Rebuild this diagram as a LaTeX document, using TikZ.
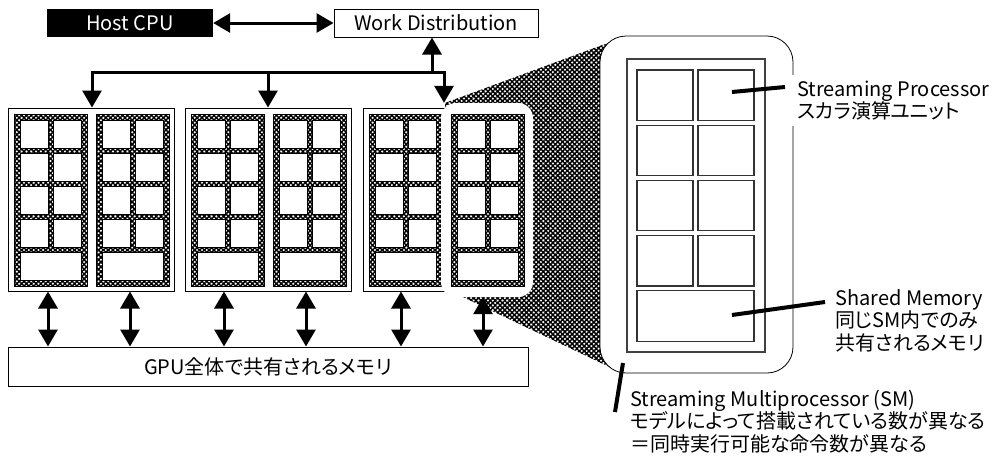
\documentclass[tikz,border=0pt]{standalone}
\usepackage{fontspec}
\setmainfont{Noto Sans CJK JP}[RawFeature=+palt]
\usetikzlibrary{arrows.meta,patterns.meta}
\tikzset{
  hatchA/.style={pattern={Lines[angle=45,distance=3.4pt,line width=1.5pt]}},
  hatchB/.style={pattern={Lines[angle=-45,distance=3.4pt,line width=1.5pt]}},
  cell/.style={draw=black, line width=1pt, fill=white},
  bigcell/.style={draw=black!80, line width=1.2pt, fill=white},
  tipT/.tip={Triangle[length=17pt,width=19pt]},
  conn/.style={line width=3pt},
  biarrow/.style={conn, tipT-tipT},
  leader/.style={line width=4pt},
  lbl/.style={anchor=west, align=left, inner xsep=5pt, inner ysep=6pt},
  smallsm/.pic={
    \path[hatchA] (0,0) rectangle (73,172);
    \path[hatchB] (0,0) rectangle (73,172);
    \draw[line width=1pt] (0,0) rectangle (73,172);
    \foreach \r in {0,...,3}{\foreach \c in {0,1}{
      \draw[cell] ({6+\c*33},{6+\r*33}) rectangle ++(28,28);}}
    \draw[cell] (6,138) rectangle ++(61,28);
  }
}
\begin{document}
\begin{tikzpicture}[x=1pt,y=-1pt,every node/.style={font=\fontsize{20}{22.5}\selectfont}]
\useasboundingbox (0,0) rectangle (996,464);
\fill[white] (0,0) rectangle (996,464);

% top boxes
\node[fill=black, text=white, minimum width=166pt, minimum height=28pt, inner sep=0] (host) at (130,23) {Host CPU};
\node[draw, line width=1pt, fill=white, minimum width=204pt, minimum height=28pt, inner sep=0] (wd) at (436,23) {Work Distribution};

% clusters
\node[draw, line width=1pt, fill=white, minimum width=166pt, minimum height=183pt, inner sep=0] (c1) at (91,199.5) {};
\node[draw, line width=1pt, fill=white, minimum width=166pt, minimum height=183pt, inner sep=0] (c2) at (268.5,199.5) {};
\node[draw, line width=1pt, fill=white, minimum width=166pt, minimum height=183pt, inner sep=0] (c3) at (446,199.5) {};
\pic at (14,114) {smallsm};
\pic at (96,114) {smallsm};
\pic at (191.5,114) {smallsm};
\pic at (273.5,114) {smallsm};
\pic at (369,114) {smallsm};

% zoom hatch
\path[hatchA] (445,103) -- (627,36) -- (618,371) -- (463,297) -- cycle;
\path[hatchB] (445,103) -- (627,36) -- (618,371) -- (463,297) -- cycle;

% highlighted SM
\node[fill=white, rounded corners=15pt, minimum width=92pt, minimum height=194pt, inner sep=0] (hl) at (487,200) {};
\pic at (451,114) {smallsm};

% big SM
\node[draw, fill=white, line width=0.8pt, rounded corners=26pt, minimum width=193pt, minimum height=337pt, inner sep=0] (big) at (696.5,204.5) {};
\node[draw=black!75, line width=1.2pt, minimum width=138pt, minimum height=293pt, inner sep=0] (inner) at (696,205.5) {};
\foreach \r in {0,...,3}{
  \draw[bigcell] (637,{70+\r*55.2}) rectangle ++(56,50.4);
  \draw[bigcell] (698,{70+\r*55.2}) rectangle ++(56,50.4);
}
\draw[bigcell] (637,290.8) rectangle ++(117,50.4);

% global memory
\node[draw, line width=1pt, fill=white, minimum width=520pt, minimum height=39pt, inner sep=0] (gmem) at (268,366.5) {GPU全体で共有されるメモリ};

% connectors
\draw[biarrow] (host.east) -- (wd.west);
\coordinate (bus) at (432,72);
\coordinate (b1) at (92,72);
\coordinate (b2) at (268,72);
\coordinate (b3) at (444,72);
\draw[conn, line cap=rect] (b1) -- (b3);
\draw[conn, -tipT] (bus) -- (bus |- wd.south);
\draw[conn, -tipT] (b1) -- (b1 |- c1.north);
\draw[conn, -tipT] (b2) -- (b2 |- c2.north);
\draw[conn, -tipT] (b3) -- (b3 |- hl.north);

\coordinate (m1) at (48,320);
\coordinate (m2) at (130,320);
\coordinate (m3) at (224,320);
\coordinate (m4) at (306,320);
\coordinate (m5) at (401,320);
\coordinate (m6) at (483,320);
\draw[biarrow] (m1 |- c1.south) -- (m1 |- gmem.north);
\draw[biarrow] (m2 |- c1.south) -- (m2 |- gmem.north);
\draw[biarrow] (m3 |- c2.south) -- (m3 |- gmem.north);
\draw[biarrow] (m4 |- c2.south) -- (m4 |- gmem.north);
\draw[biarrow] (m5 |- c3.south) -- (m5 |- gmem.north);
\draw[biarrow] (m6 |- hl.south) -- (m6 |- gmem.north);

% labels
\node[lbl, fill=white] (splab) at (792,100.5) {Streaming Processor\\スカラ演算ユニット};
\coordinate (sp1) at (732,92);
\coordinate (sp2) at (785,87);
\draw[leader] (sp1) -- (sp2);

\node[lbl] (shlab) at (830,320.5) {Shared Memory\\同じSM内でのみ\\共有されるメモリ};
\coordinate (sh1) at (732,315);
\coordinate (sh2) at (825,302);
\draw[leader] (sh1) -- (sh2);

\node[lbl] (smlab) at (625,421.5) {Streaming Multiprocessor (SM)\\モデルによって搭載されている数が異なる\\＝同時実行可能な命令数が異なる};
\coordinate (sm1) at (623,363);
\coordinate (sm2) at (615,412);
\draw[leader] (sm1) -- (sm2);
\end{tikzpicture}
\end{document}
